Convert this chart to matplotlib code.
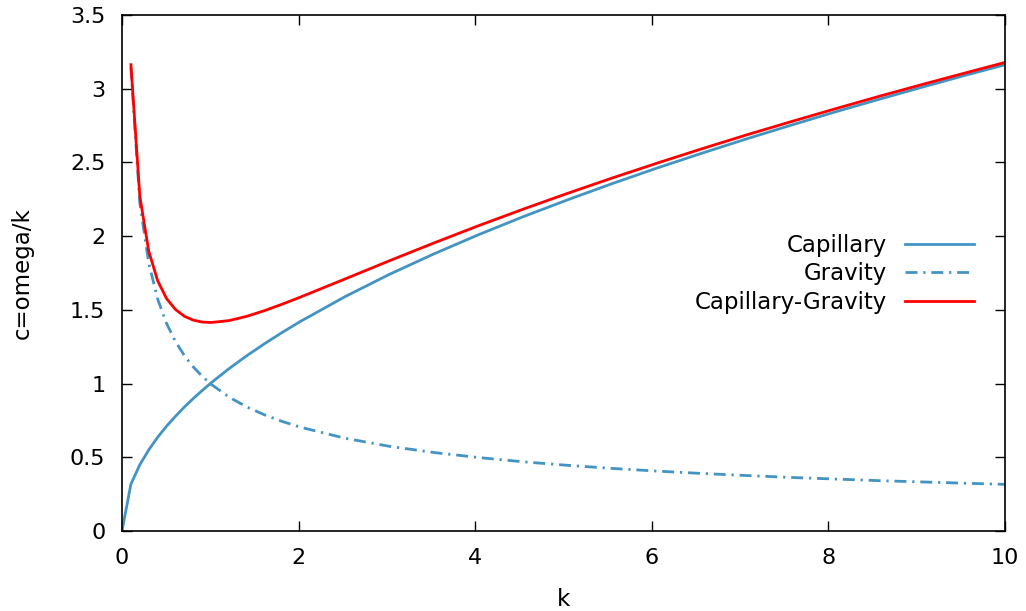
import numpy as np
import matplotlib.pyplot as plt
from matplotlib import rcParams

rcParams["font.family"] = "DejaVu Sans"
rcParams["font.size"] = 16.5

# Data (wave number k vs phase speed c)
k_cap = [0.0, 0.101, 0.202, 0.303, 0.404, 0.505, 0.606, 0.707, 0.808, 0.909,
         1.010, 1.212, 1.414, 1.616, 1.818, 2.020, 2.525, 3.030, 3.535, 4.040,
         4.545, 5.051, 5.556, 6.061, 6.566, 7.071, 7.576, 8.081, 8.586, 9.091,
         9.596, 10.0]
c_cap = [0.0, 0.318, 0.449, 0.550, 0.636, 0.711, 0.778, 0.841, 0.899, 0.953,
         1.005, 1.101, 1.189, 1.271, 1.348, 1.421, 1.589, 1.741, 1.880, 2.010,
         2.132, 2.247, 2.357, 2.462, 2.562, 2.659, 2.752, 2.843, 2.930, 3.015,
         3.098, 3.162]

k_grav = k_cap[1:]
c_grav = [3.146, 2.225, 1.817, 1.573, 1.407, 1.285, 1.189, 1.112, 1.049,
          0.995, 0.908, 0.841, 0.787, 0.742, 0.704, 0.629, 0.574, 0.532, 0.498,
          0.469, 0.445, 0.424, 0.406, 0.390, 0.376, 0.363, 0.352, 0.341, 0.332,
          0.323, 0.316]
c_capgrav = [3.163, 2.270, 1.898, 1.697, 1.576, 1.502, 1.456, 1.430, 1.417,
             1.414, 1.427, 1.456, 1.495, 1.539, 1.586, 1.709, 1.833, 1.954,
             2.071, 2.183, 2.291, 2.395, 2.495, 2.592, 2.686, 2.776, 2.864,
             2.950, 3.033, 3.114, 3.178]

blue = "#4393c3"
red = "#ff0000"
lw = 2.0

fig = plt.figure(figsize=(10.26, 6.11), dpi=100)
ax = fig.add_axes([0.1189, 0.131, 0.8606, 0.8445])

ax.plot(k_cap, c_cap, c=blue, lw=lw, label="Capillary")
ax.plot(k_grav, c_grav, c=blue, lw=lw, dashes=(4.3, 2.1, 0.8, 2.1),
        label="Gravity")
ax.plot(k_grav, c_capgrav, c=red, lw=lw, label="Capillary-Gravity")

ax.set_xlim(0, 10)
ax.set_ylim(0, 3.5)
ax.set_xticks(np.arange(0, 11, 2))
ax.set_yticks(np.arange(0, 3.51, 0.5))
ax.set_yticklabels(["0", "0.5", "1", "1.5", "2", "2.5", "3", "3.5"])
ax.tick_params(direction="in", length=7, width=1, top=True, right=True,
               labelsize=16, pad=12)
for s in ax.spines.values():
    s.set_linewidth(1.2)

ax.set_xlabel("k", labelpad=15)
ax.set_ylabel("c=omega/k", labelpad=26)

ax.legend(loc="upper right", bbox_to_anchor=(0.975, 0.594), frameon=False,
          markerfirst=False, handlelength=3.0, handletextpad=0.8,
          labelspacing=0.25, borderaxespad=0, fontsize=16.5)

plt.savefig("out.png", dpi=100)
